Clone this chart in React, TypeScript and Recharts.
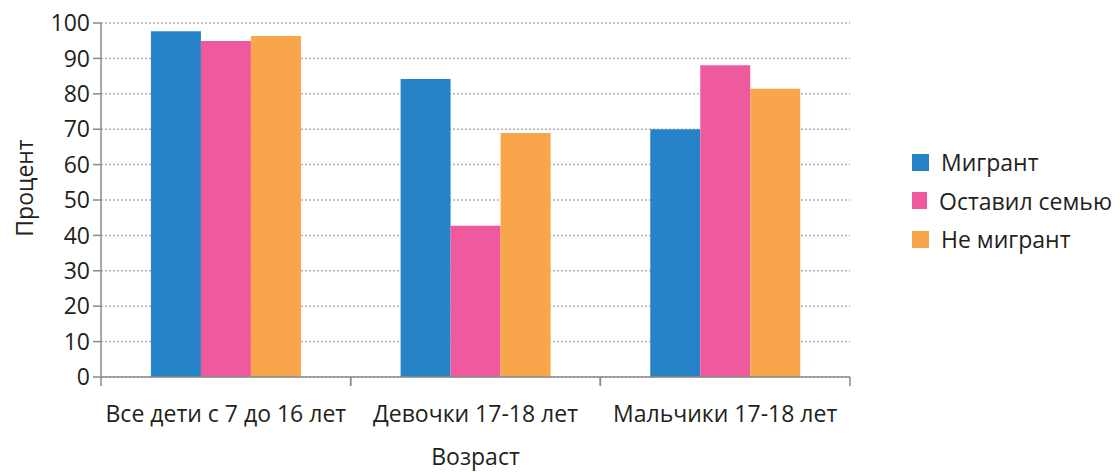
import { BarChart, Bar, XAxis, YAxis, CartesianGrid, Legend } from 'recharts';

const categories = ['Все дети с 7 до 16 лет', 'Девочки 17-18 лет', 'Мальчики 17-18 лет'];
const migrant = [97.7, 84.2, 70.0];
const leftFamily = [94.9, 42.7, 88.1];
const nonMigrant = [96.3, 68.9, 81.4];
const yTicks = [0, 10, 20, 30, 40, 50, 60, 70, 80, 90, 100];

const seriesNames = ['Мигрант', 'Оставил семью', 'Не мигрант'];
const colors = ['#2783c7', '#ef5a9f', '#f9a54b'];

const data = categories.map((name, i) => ({
  name,
  migrant: migrant[i],
  leftFamily: leftFamily[i],
  nonMigrant: nonMigrant[i],
}));

const FONT = '"Open Sans", sans-serif';
const FS = 23;
const TEXT = '#231f20';
const AXIS = '#8a8a8a';
const BAND = 749 / 3;

function XTick(props: any) {
  const { x, y, payload } = props;
  return (
    <g>
      <line x1={x - BAND / 2} x2={x - BAND / 2} y1={y - 9} y2={y} stroke={AXIS} strokeWidth={1.5} />
      <line x1={x + BAND / 2} x2={x + BAND / 2} y1={y - 9} y2={y} stroke={AXIS} strokeWidth={1.5} />
      <text x={x} y={y + 36} textAnchor="middle" fill={TEXT} fontSize={FS} fontFamily={FONT}>
        {payload.value}
      </text>
    </g>
  );
}

function XLabel(props: any) {
  const { viewBox } = props;
  return (
    <text x={viewBox.x + viewBox.width / 2} y={465} textAnchor="middle" fill={TEXT} fontSize={FS} fontFamily={FONT}>
      Возраст
    </text>
  );
}

function YLabel() {
  return (
    <text
      x={33}
      y={188}
      transform="rotate(-90, 33, 188)"
      textAnchor="middle"
      fill={TEXT}
      fontSize={FS}
      fontFamily={FONT}
    >
      Процент
    </text>
  );
}

function LegendContent() {
  return (
    <div style={{ fontFamily: FONT, fontSize: FS, color: TEXT }}>
      {seriesNames.map((n, i) => (
        <div key={n} style={{ display: 'flex', alignItems: 'center', height: 38.5 }}>
          <span style={{ width: 17, height: 17, background: colors[i], display: 'inline-block', marginRight: 12 }} />
          <span style={{ whiteSpace: 'nowrap' }}>{n}</span>
        </div>
      ))}
    </div>
  );
}

export default function App() {
  return (
    <div style={{ position: 'absolute', left: 0, top: 0, width: 1120, height: 472, background: '#fff', overflow: 'hidden' }}>
      <BarChart
        width={1120}
        height={472}
        data={data}
        margin={{ top: 23, right: 70, left: 0, bottom: 0 }}
        barCategoryGap="20%"
        barGap={0}
      >
        <CartesianGrid vertical={false} stroke="#b0b0b0" strokeDasharray="2 2" strokeWidth={1.5} />
        <XAxis
          dataKey="name"
          height={95}
          stroke={AXIS}
          strokeWidth={1.5}
          tickLine={false}
          tickSize={9}
          tickMargin={0}
          tick={<XTick />}
          interval={0}
          label={<XLabel />}
        />
        <YAxis
          width={101}
          domain={[0, 100]}
          ticks={yTicks}
          interval={0}
          stroke={AXIS}
          strokeWidth={1.5}
          tickSize={8}
          tickMargin={3}
          tick={{ fill: TEXT, fontSize: FS, fontFamily: FONT }}
          label={<YLabel />}
        />
        <Legend
          layout="vertical"
          align="right"
          verticalAlign="top"
          content={<LegendContent />}
          wrapperStyle={{ position: 'absolute', left: 912, top: 143, width: 200 }}
        />
        <Bar dataKey="migrant" name={seriesNames[0]} fill={colors[0]} isAnimationActive={false} />
        <Bar dataKey="leftFamily" name={seriesNames[1]} fill={colors[1]} isAnimationActive={false} />
        <Bar dataKey="nonMigrant" name={seriesNames[2]} fill={colors[2]} isAnimationActive={false} />
      </BarChart>
    </div>
  );
}
